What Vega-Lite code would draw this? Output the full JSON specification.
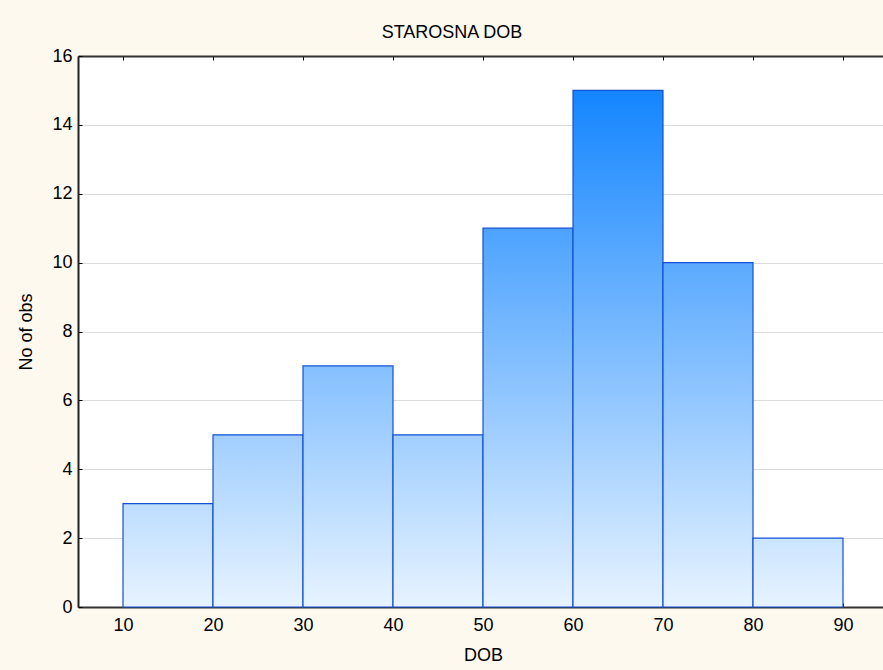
{
  "$schema": "https://vega.github.io/schema/vega-lite/v6.json",
  "autosize": "none",
  "width": 810,
  "height": 551,
  "padding": {"left": 78, "top": 56, "right": 0, "bottom": 63},
  "background": "#FDF9EF",
  "config": {
    "view": {"fill": "white", "stroke": null},
    "font": "Liberation Sans"
  },
  "title": {
    "text": "STAROSNA DOB",
    "fontSize": 18,
    "fontWeight": "normal",
    "color": "black",
    "offset": 5,
    "dx": -31,
    "anchor": "middle"
  },
  "data": {
    "values": [
      {"bin_start": 10, "bin_end": 20, "count": 3},
      {"bin_start": 20, "bin_end": 30, "count": 5},
      {"bin_start": 30, "bin_end": 40, "count": 7},
      {"bin_start": 40, "bin_end": 50, "count": 5},
      {"bin_start": 50, "bin_end": 60, "count": 11},
      {"bin_start": 60, "bin_end": 70, "count": 15},
      {"bin_start": 70, "bin_end": 80, "count": 10},
      {"bin_start": 80, "bin_end": 90, "count": 2}
    ]
  },
  "layer": [
    {
      "mark": {"type": "bar", "orient": "vertical", "stroke": "#1350D4", "strokeWidth": 1.2},
      "encoding": {
        "x": {
          "field": "bin_start",
          "type": "quantitative",
          "scale": {"domain": [5, 95], "nice": false, "zero": false, "padding": 0},
          "axis": {
            "orient": "bottom",
            "values": [10, 20, 30, 40, 50, 60, 70, 80, 90],
            "title": "DOB",
            "titleFontSize": 18,
            "titleFontWeight": "normal",
            "titleColor": "black",
            "titlePadding": 12,
            "labelFontSize": 18,
            "labelColor": "black",
            "labelPadding": 13,
            "tickSize": -4,
            "tickColor": "black",
            "domainColor": "#333333",
            "domainWidth": 2,
            "grid": false
          }
        },
        "x2": {"field": "bin_end"},
        "y": {
          "field": "count",
          "type": "quantitative",
          "scale": {"domain": [0, 16], "nice": false, "padding": 0},
          "axis": {
            "values": [0, 2, 4, 6, 8, 10, 12, 14, 16],
            "title": "No of obs",
            "titleFontSize": 18,
            "titleFontWeight": "normal",
            "titleColor": "black",
            "titlePadding": 16,
            "labelFontSize": 18,
            "labelColor": "black",
            "labelPadding": 10,
            "tickSize": -4,
            "tickColor": "black",
            "domainColor": "#222222",
            "domainWidth": 2,
            "grid": true,
            "gridColor": "#DCDCDC"
          }
        },
        "y2": {"datum": 0},
        "fill": {
          "condition": [
            {"test": "datum.count == 15", "value": {"gradient": "linear", "x1": 0, "x2": 0, "y1": -0.0667, "y2": 1, "stops": [{"offset": 0, "color": "#067EFF"}, {"offset": 1, "color": "#E7F3FF"}]}},
            {"test": "datum.count == 11", "value": {"gradient": "linear", "x1": 0, "x2": 0, "y1": -0.4545, "y2": 1, "stops": [{"offset": 0, "color": "#067EFF"}, {"offset": 1, "color": "#E7F3FF"}]}},
            {"test": "datum.count == 10", "value": {"gradient": "linear", "x1": 0, "x2": 0, "y1": -0.6, "y2": 1, "stops": [{"offset": 0, "color": "#067EFF"}, {"offset": 1, "color": "#E7F3FF"}]}},
            {"test": "datum.count == 7", "value": {"gradient": "linear", "x1": 0, "x2": 0, "y1": -1.2857, "y2": 1, "stops": [{"offset": 0, "color": "#067EFF"}, {"offset": 1, "color": "#E7F3FF"}]}},
            {"test": "datum.count == 5", "value": {"gradient": "linear", "x1": 0, "x2": 0, "y1": -2.2, "y2": 1, "stops": [{"offset": 0, "color": "#067EFF"}, {"offset": 1, "color": "#E7F3FF"}]}},
            {"test": "datum.count == 3", "value": {"gradient": "linear", "x1": 0, "x2": 0, "y1": -4.3333, "y2": 1, "stops": [{"offset": 0, "color": "#067EFF"}, {"offset": 1, "color": "#E7F3FF"}]}}
          ],
          "value": {"gradient": "linear", "x1": 0, "x2": 0, "y1": -7, "y2": 1, "stops": [{"offset": 0, "color": "#067EFF"}, {"offset": 1, "color": "#E7F3FF"}]}
        }
      }
    },
    {
      "mark": {"type": "bar", "orient": "vertical", "opacity": 0},
      "encoding": {
        "x": {
          "field": "bin_start",
          "type": "quantitative",
          "axis": {
            "orient": "top",
            "values": [10, 20, 30, 40, 50, 60, 70, 80, 90],
            "labels": false,
            "title": null,
            "tickSize": -4,
            "tickColor": "black",
            "domainColor": "#333333",
            "domainWidth": 2,
            "grid": false
          }
        },
        "x2": {"field": "bin_end"}
      }
    }
  ],
  "resolve": {"axis": {"x": "independent"}}
}
